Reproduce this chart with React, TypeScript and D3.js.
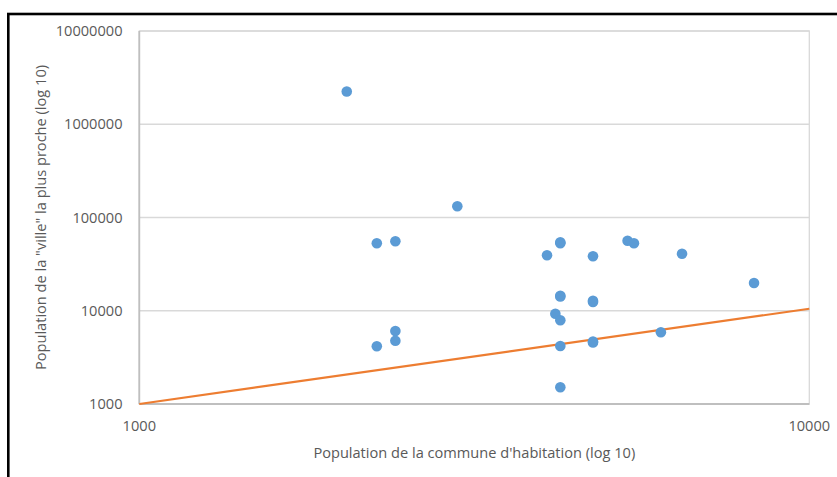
import React from "react";
import * as d3 from "d3";

// Population de la commune d'habitation
const communePop: number[] = [
  2040, 2262, 2411, 2983, 2262, 2411, 2411, 4250, 4250, 4060, 4755, 5355, 5474,
  6457, 8270, 4250, 4250, 4755, 4755, 4178, 4250, 4250, 4755, 4755, 4250, 6005,
];
// Population de la "ville" la plus proche
const villePop: number[] = [
  2245000, 52880, 55570, 131900, 4157, 6065, 4772, 52880, 54200, 39330, 38370, 56390, 52880,
  40910, 19850, 14500, 14200, 12820, 12400, 9300, 7900, 4188, 4680, 4560, 1510, 5873,
];
// Orange reference line endpoints
const lineX: number[] = [1000, 10000];
const lineY: number[] = [1000, 10500];

const xTicks: number[] = [1000, 10000];
const yTicks: number[] = [1000, 10000, 100000, 1000000, 10000000];

const xTitle = "Population de la commune d'habitation (log 10)";
const yTitle = 'Population de la "ville" la plus proche (log 10)';

export default function App() {
  const W = 837;
  const H = 477;
  const left = 139.3;
  const right = 809.3;
  const top = 31;
  const bottom = 404;
  const x = d3.scaleLog().domain([1000, 10000]).range([left, right]);
  const y = d3.scaleLog().domain([1000, 10000000]).range([bottom, top]);
  const font = "'Open Sans', sans-serif";
  const fs = 14.6;
  const textColor = "#595959";
  const pts = communePop.map((c, i) => ({ c, v: villePop[i] }));
  const linePts = lineX.map((lx, i) => [lx, lineY[i]] as [number, number]);
  const lineGen = d3
    .line<[number, number]>()
    .x((d) => x(d[0]))
    .y((d) => y(d[1]));

  return (
    <svg
      width={W}
      height={H}
      style={{ position: "absolute", left: 0, top: 0, display: "block", background: "#fff" }}
    >
      <rect x={0} y={0} width={W} height={H} fill="#fff" />
      <rect x={8.3} y={14} width={W + 50} height={H + 50} fill="none" stroke="#000" strokeWidth={2.6} />
      {/* plot border */}
      <rect x={left} y={top} width={right - left} height={bottom - top} fill="none" stroke="#D9D9D9" strokeWidth={1.3} />
      {/* gridlines */}
      {yTicks.map((t) => (
        <line key={"g" + t} x1={left} x2={right} y1={y(t)} y2={y(t)} stroke="#D9D9D9" strokeWidth={1.3} />
      ))}
      {/* axes */}
      <line x1={left} x2={left} y1={top} y2={bottom} stroke="#BFBFBF" strokeWidth={1.8} />
      <line x1={left} x2={right} y1={bottom} y2={bottom} stroke="#BFBFBF" strokeWidth={1.8} />
      {/* y tick labels */}
      {yTicks.map((t) => (
        <text
          key={"yt" + t}
          x={122.5}
          y={y(t)}
          dy="0.35em"
          textAnchor="end"
          fontFamily={font}
          fontSize={fs}
          fill={textColor}
        >
          {String(t)}
        </text>
      ))}
      {/* x tick labels */}
      {xTicks.map((t) => (
        <text
          key={"xt" + t}
          x={x(t)}
          y={426}
          dy="0.35em"
          textAnchor="middle"
          fontFamily={font}
          fontSize={fs}
          fill={textColor}
        >
          {String(t)}
        </text>
      ))}
      {/* axis titles */}
      <text
        x={(left + right) / 2}
        y={453}
        dy="0.35em"
        textAnchor="middle"
        fontFamily={font}
        fontSize={fs}
        fill={textColor}
      >
        {xTitle}
      </text>
      <text
        transform={`translate(41,${(top + bottom) / 2}) rotate(-90)`}
        dy="0.35em"
        textAnchor="middle"
        fontFamily={font}
        fontSize={fs}
        fill={textColor}
      >
        {yTitle}
      </text>
      {/* line */}
      <path d={lineGen(linePts) || ""} fill="none" stroke="#ED7D31" strokeWidth={2.2} />
      {/* points */}
      {pts.map((p, i) => (
        <circle key={"p" + i} cx={x(p.c)} cy={y(p.v)} r={5.3} fill="#5B9BD5" />
      ))}
    </svg>
  );
}
